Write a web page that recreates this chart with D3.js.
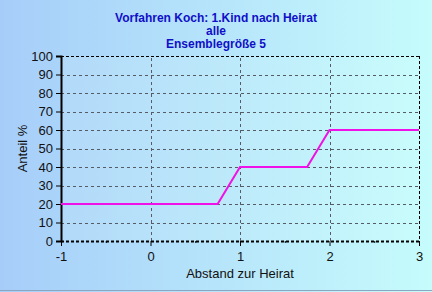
<!DOCTYPE html>
<html>
<head>
<meta charset="utf-8">
<style>
  body { margin: 0; }
  svg text { font-family: "Liberation Sans", Arial, sans-serif; }
</style>
</head>
<body>
<div id="chart"></div>
<script src="https://cdn.jsdelivr.net/npm/d3@7"></script>
<script>
const titleLines = ["Vorfahren Koch: 1.Kind nach Heirat", "alle", "Ensemblegröße 5"];
const xValues = [-1, 0.75, 1, 1.75, 2, 3];
const yValues = [20, 20, 40, 40, 60, 60];
const xTicks = [-1, 0, 1, 2, 3];
const yTicks = [0, 10, 20, 30, 40, 50, 60, 70, 80, 90, 100];

const width = 432, height = 292;
const margin = { top: 56, right: 13, bottom: 51, left: 61 };

const svg = d3.select("#chart").append("svg")
  .attr("width", width).attr("height", height);

const defs = svg.append("defs");
const bg = defs.append("linearGradient").attr("id", "bg");
bg.append("stop").attr("offset", "0%").attr("stop-color", "#a6cdf9");
bg.append("stop").attr("offset", "100%").attr("stop-color", "#c6fcfc");
const pg = defs.append("linearGradient").attr("id", "pg");
pg.append("stop").attr("offset", "0%").attr("stop-color", "#b2d9f9");
pg.append("stop").attr("offset", "100%").attr("stop-color", "#c9fcfc");

svg.append("rect").attr("width", width).attr("height", height).attr("fill", "url(#bg)");
svg.append("line").attr("x1", 0).attr("x2", width).attr("y1", 290.5).attr("y2", 290.5)
  .attr("stroke", "#8aa6c0").attr("stroke-width", 1);

const x = d3.scaleLinear().domain([-1, 3]).range([margin.left, width - margin.right]);
const y = d3.scaleLinear().domain([0, 100]).range([height - margin.bottom, margin.top]);

svg.append("rect")
  .attr("x", x(-1)).attr("y", y(100))
  .attr("width", x(3) - x(-1)).attr("height", y(0) - y(100))
  .attr("fill", "url(#pg)");

// grid
const grid = svg.append("g").attr("stroke", "#555c66").attr("stroke-dasharray", "3,3").attr("stroke-width", 1);
yTicks.slice(1, -1).forEach(v => {
  grid.append("line").attr("x1", x(-1)).attr("x2", x(3))
    .attr("y1", Math.round(y(v)) + 0.5).attr("y2", Math.round(y(v)) + 0.5);
});
xTicks.slice(1, -1).forEach(v => {
  grid.append("line").attr("y1", y(0)).attr("y2", y(100))
    .attr("x1", Math.round(x(v)) + 0.5).attr("x2", Math.round(x(v)) + 0.5);
});

// frame: top and right dashed black
const frame = svg.append("g").attr("stroke", "#000").attr("stroke-dasharray", "3,2");
frame.append("line").attr("x1", x(-1)).attr("x2", x(3)).attr("y1", y(100) + 0.5).attr("y2", y(100) + 0.5);
frame.append("line").attr("x1", Math.round(x(3)) + 0.5).attr("x2", Math.round(x(3)) + 0.5).attr("y1", y(100)).attr("y2", y(0));
frame.append("line").attr("x1", x(-1)).attr("x2", x(3)).attr("y1", y(0) + 0.5).attr("y2", y(0) + 0.5)
  .attr("stroke-width", 2);

// axes
const yAxis = svg.append("g")
  .attr("transform", `translate(${x(-1)},0)`)
  .call(d3.axisLeft(y).tickValues(yTicks).tickSize(5).tickPadding(3));
yAxis.select(".domain").attr("stroke-width", 2);

const xAxis = svg.append("g")
  .attr("transform", `translate(0,${y(0)})`)
  .call(d3.axisBottom(x).tickValues(xTicks).tickFormat(d => String(d)).tickSize(5).tickPadding(6));
xAxis.select(".domain").remove();
svg.append("g")
  .attr("transform", `translate(0,${y(0)})`)
  .call(d3.axisBottom(x).tickValues([-0.5, 0.5, 1.5, 2.5]).tickSize(2).tickFormat(""))
  .select(".domain").remove();

svg.selectAll(".tick text").attr("font-size", 13).attr("fill", "#111")
  .attr("font-family", "'Liberation Sans', Arial, sans-serif");

// line
svg.append("path")
  .datum(xValues.map((v, i) => [v, yValues[i]]))
  .attr("fill", "none").attr("stroke", "#f010e8").attr("stroke-width", 2)
  .attr("d", d3.line().x(d => x(d[0])).y(d => y(d[1])));

// titles
titleLines.forEach((t, i) => {
  svg.append("text").attr("x", 216).attr("y", 22 + i * 13)
    .attr("text-anchor", "middle").attr("font-size", 12).attr("font-weight", "bold")
    .attr("fill", "#1010c8").text(t);
});

svg.append("text").attr("x", 240).attr("y", 278).attr("text-anchor", "middle")
  .attr("font-size", 13).attr("fill", "#111").text("Abstand zur Heirat");
svg.append("text").attr("transform", `translate(27,${(y(0) + y(100)) / 2}) rotate(-90)`)
  .attr("text-anchor", "middle").attr("font-size", 13).attr("fill", "#111").text("Anteil %");
</script>
</body>
</html>
